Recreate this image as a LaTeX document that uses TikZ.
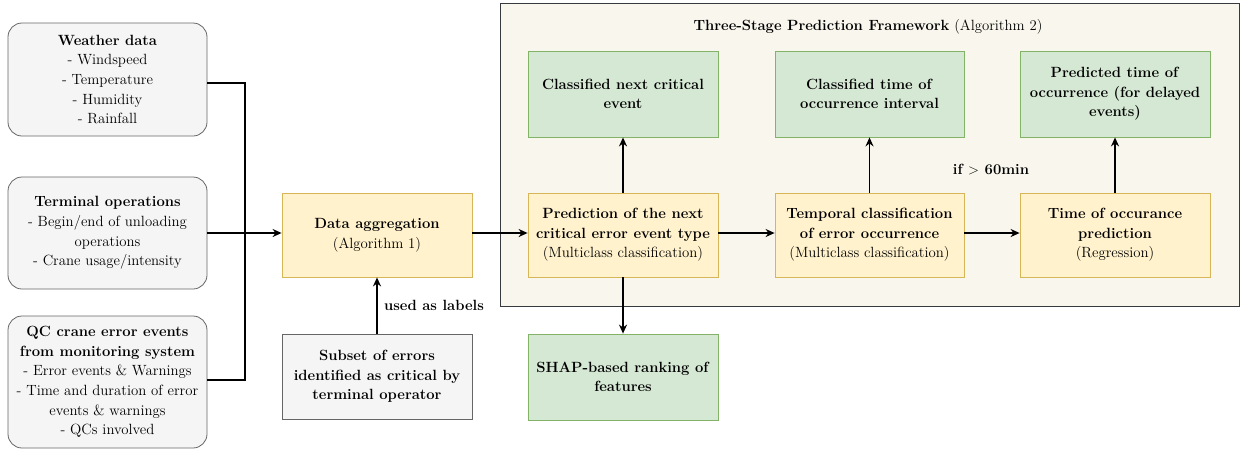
\documentclass[tikz,border=0pt]{standalone}
\usetikzlibrary{arrows.meta}
\definecolor{grayfill}{HTML}{F5F5F5}
\definecolor{grayline}{HTML}{666666}
\definecolor{yelfill}{HTML}{FFF2CC}
\definecolor{yelline}{HTML}{D6B656}
\definecolor{grnfill}{HTML}{D5E8D4}
\definecolor{grnline}{HTML}{82B366}
\definecolor{contfill}{HTML}{F9F7ED}
\definecolor{contline}{HTML}{36393D}
\tikzset{
  txt/.style={font=\fontsize{14.8}{19.6}\selectfont, align=center, inner sep=0pt},
  srcbox/.style={txt, draw=grayline, fill=grayfill, rounded corners=14pt, minimum width=199pt, line width=0.8pt},
  graybox/.style={txt, draw=grayline, fill=grayfill, minimum width=190pt, minimum height=85pt, line width=0.8pt},
  yelbox/.style={txt, draw=yelline, fill=yelfill, minimum width=190pt, minimum height=84pt, line width=0.8pt},
  grnbox/.style={txt, draw=grnline, fill=grnfill, minimum width=190pt, minimum height=86pt, line width=0.8pt},
  conn/.style={line width=1.5pt, draw=black},
  arr/.style={conn, -{Stealth[length=9pt,width=8pt]}},
  lbl/.style={txt, font=\fontsize{14.8}{19.6}\selectfont\bfseries},
}
\begin{document}
\begin{tikzpicture}[x=1pt,y=-1pt]
\useasboundingbox (0,0) rectangle (1241,451);
% container
\node[draw=contline, fill=contfill, line width=0.8pt, minimum width=739pt, minimum height=303pt, inner sep=0pt] (cont) at (869.5,154.5) {};
\node[txt] (title) at (868,27) {\textbf{Three-Stage Prediction Framework} (Algorithm 2)};
% sources
\node[srcbox, minimum height=113pt] (weather) at (107.5,79.5) {\textbf{Weather data}\\- Windspeed\\- Temperature\\- Humidity\\- Rainfall};
\node[srcbox, minimum height=112pt] (terminal) at (107.5,233) {\textbf{Terminal operations}\\- Begin/end of unloading\\operations\\- Crane usage/intensity};
\node[srcbox, minimum height=132pt] (qc) at (107.5,382) {\textbf{QC crane error events}\\\textbf{from monitoring system}\\- Error events \& Warnings\\- Time and duration of error\\events \& warnings\\- QCs involved};
% aggregation
\node[yelbox] (agg) at (377,235) {\textbf{Data aggregation}\\(Algorithm 1)};
\node[graybox] (subset) at (377,376.5) {\textbf{Subset of errors}\\\textbf{identified as critical by}\\\textbf{terminal operator}};
% stages
\node[yelbox] (y1) at (623,235) {\textbf{Prediction of the next}\\\textbf{critical error event type}\\(Multiclass classification)};
\node[yelbox, minimum width=189pt] (y2) at (869.5,235) {\textbf{Temporal classification}\\\textbf{of error occurrence}\\(Multiclass classification)};
\node[yelbox] (y3) at (1115,235) {\textbf{Time of occurance}\\\textbf{prediction}\\(Regression)};
\node[grnbox] (g1) at (623,94) {\textbf{Classified next critical}\\\textbf{event}};
\node[grnbox, minimum width=189pt] (g2) at (869.5,94) {\textbf{Classified time of}\\\textbf{occurrence interval}};
\node[grnbox] (g3) at (1115,94) {\textbf{Predicted time of}\\\textbf{occurrence (for delayed}\\\textbf{events)}};
\node[grnbox] (shap) at (623,377) {\textbf{SHAP-based ranking of}\\\textbf{features}};
% labels
\node[lbl] (uselbl) at (434,305) {used as labels};
\node[lbl] (iflbl) at (991,170) {if $>$ 60min};
% connectors
\coordinate (j) at (245,233);
\draw[conn] ([yshift=-3.5pt]weather.east) -| (j);
\draw[conn] ([yshift=2pt]qc.east) -| (j);
\draw[arr] (terminal.east) -- (terminal.east -| agg.west);
\draw[arr] (subset.north) -- (agg.south);
\draw[arr] ([yshift=2pt]agg.east) -- ([yshift=2pt]agg.east -| y1.west);
\draw[arr] ([yshift=2pt]y1.east) -- ([yshift=2pt]y1.east -| y2.west);
\draw[arr] ([yshift=2pt]y2.east) -- ([yshift=2pt]y2.east -| y3.west);
\draw[arr] (y1.north) -- (g1.south);
\draw[arr] (y2.north) -- (g2.south);
\draw[arr] (y3.north) -- (g3.south);
\draw[arr] (y1.south) -- (shap.north);
\end{tikzpicture}
\end{document}
